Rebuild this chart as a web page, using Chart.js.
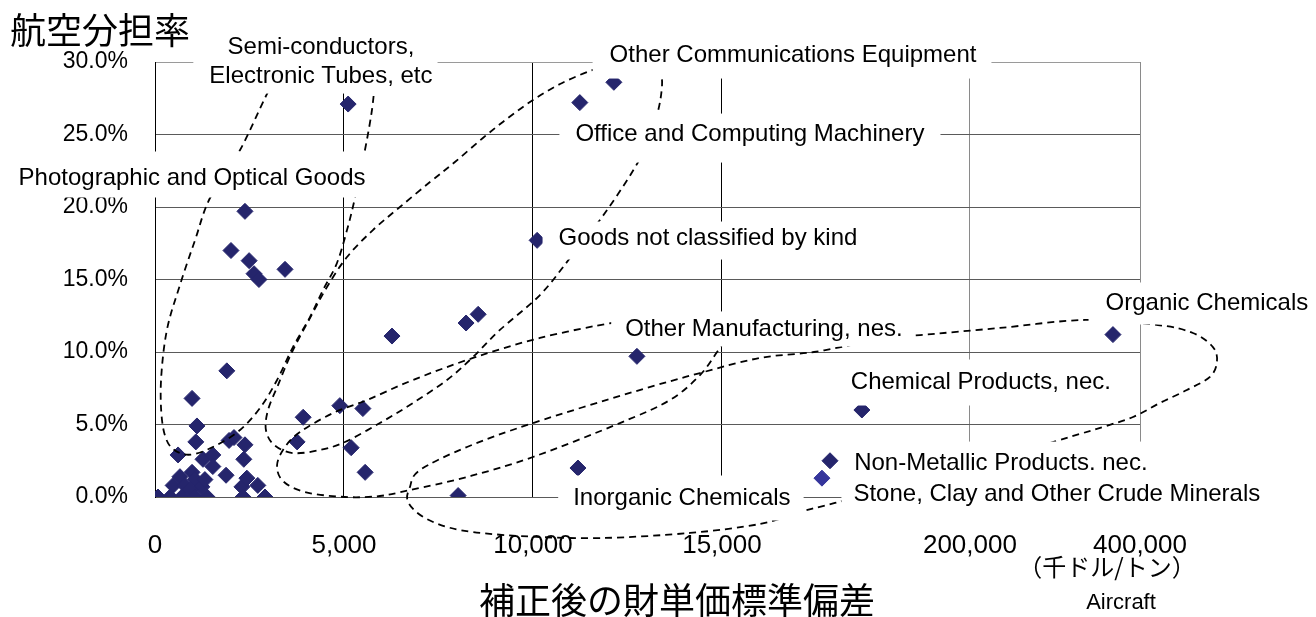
<!DOCTYPE html>
<html><head><meta charset="utf-8">
<script src="https://cdn.jsdelivr.net/npm/chart.js@4.4.1/dist/chart.umd.min.js"></script>
<style>html,body{margin:0;padding:0;background:#fff;}canvas{display:block;}</style>
</head><body>
<canvas id="c" width="1316" height="617"></canvas>
<script>
// ---------------- data ----------------
// x: adjusted standard deviation of unit value (thousand $/ton), y: air share (%)
const stdDev = [5110, 11240, 12140, 2380, 2010, 2490, 2620, 2750, 3440, 10110, 6270, 8230, 8550, 12750,
  1900, 980, 1110, 1080, 610, 1960, 2090, 2380, 2350, 1880, 1270, 1530, 1530, 980, 660, 480, 790, 1060,
  1240, 1320, 930, 80, 400, 710, 1060, 1380, 2300, 2430, 2720, 2330, 2910, 3920, 4890, 5500, 3760, 5190,
  5560, 8020, 11190, 119400, 368200, 95600];
const airShare = [27.1, 27.2, 28.6, 19.7, 17.0, 16.3, 15.4, 15.0, 15.7, 17.7, 11.1, 12.0, 12.6, 9.7,
  8.7, 6.8, 4.9, 3.8, 2.9, 3.9, 4.1, 3.6, 2.6, 1.5, 2.6, 2.9, 2.1, 1.7, 1.4, 0.8, 0.8, 1.2,
  0.7, 1.2, 0.5, 0, 0, 0, 0, 0, 0.7, 1.3, 0.8, 0, 0, 5.5, 6.3, 6.1, 3.8, 3.4,
  1.7, 0.1, 2.0, 6.0, 11.2, 2.5];
const stoneStdDev = [89600];
const stoneShare = [1.3];

const xTickValues = [0, 5000, 10000, 15000, 200000, 400000];
const xTickLabels = ['0', '5,000', '10,000', '15,000', '200,000', '400,000'];
const yTickStep = 5;

// broken x axis: real value -> axis position
const xBreaks = [0, 15000, 200000, 400000];
const axisBreaks = [0, 3, 4.312, 5.212];
function axisPos(v) {
  for (let i = 1; i < xBreaks.length; i++) {
    if (v <= xBreaks[i] || i === xBreaks.length - 1) {
      const t = (v - xBreaks[i - 1]) / (xBreaks[i] - xBreaks[i - 1]);
      return axisBreaks[i - 1] + t * (axisBreaks[i] - axisBreaks[i - 1]);
    }
  }
}

// ---------------- annotations (axis units: [axis position, %]) ----------------
const curves = [
  { closed: false, pts: [[0.661,29.45],[0.582,27.52],[0.450,23.93],[0.291,20.62],[0.212,17.72],[0.132,14.62],[0.063,11.52],
    [0.032,8.07],[0.037,5.31],[0.069,3.72],[0.132,3.03],[0.212,2.97],[0.328,3.59],[0.450,4.62],[0.556,6.14],[0.646,8.07],
    [0.730,10.34],[0.820,12.41],[0.889,14.28],[0.963,16.14],[1.016,18.41],[1.058,20.62],[1.111,23.93],[1.148,26.69],[1.164,28.76],[1.169,29.59]] },
  { closed: false, pts: [[2.407,29.72],[2.302,29.38],[2.143,28.48],[2.0,27.38],[1.868,26.14],[1.735,24.76],[1.587,23.10],[1.455,21.72],
    [1.296,20.0],[1.153,18.41],[1.016,16.55],[0.910,14.48],[0.820,12.34],[0.725,10.0],[0.651,7.72],[0.598,6.0],[0.587,4.62],
    [0.630,3.59],[0.730,3.03],[0.873,3.24],[1.005,3.79],[1.190,5.10],[1.365,6.48],[1.545,8.07],[1.683,9.66],[1.825,11.52],
    [2.037,13.93],[2.196,16.48],[2.392,19.79],[2.577,23.59],[2.656,26.34],[2.683,28.41],[2.672,29.59]] },
  { closed: false, pts: [[2.566,12.07],[2.418,12.0],[2.037,10.97],[1.683,9.59],[1.365,8.07],[1.122,6.69],[0.942,5.79],[0.767,4.48],
    [0.688,3.45],[0.646,2.21],[0.677,1.10],[0.794,0.34],[1.005,0.0],[1.190,0.07],[1.349,0.48],[1.651,1.38],[2.0,2.76],
    [2.460,5.10],[2.725,6.69],[2.884,8.41],[2.974,10.0],[3.026,10.97],[3.069,11.52]] },
  { closed: true, pts: [[3.836,10.97],[4.048,11.17],[4.471,11.66],[4.921,12.21],[5.307,11.86],[5.492,11.31],[5.598,10.34],[5.619,9.31],
    [5.582,8.28],[5.460,7.38],[5.317,6.48],[5.175,5.52],[5.016,4.83],[4.841,4.14],[4.471,2.69],[3.942,0.83],[3.598,-0.41],
    [3.413,-1.03],[3.201,-1.86],[2.831,-2.48],[2.354,-2.83],[1.931,-2.69],[1.614,-2.28],[1.429,-1.45],[1.339,-0.34],
    [1.349,0.69],[1.402,1.86],[1.651,3.45],[2.0,5.10],[2.529,7.24],[2.884,8.55],[3.201,9.59],[3.487,10.0],[3.730,10.62]] }
];

// label: lines, centre [axis position, %], white box padding [left,right,top,bottom]
const labels = [
  { lines: ['Semi-conductors,', 'Electronic Tubes, etc'], at: [0.878, 30.03], pad: [16, 5, 4, 3] },
  { lines: ['Other Communications Equipment'], at: [3.376, 30.48], pad: [17, 15, 3, 9] },
  { lines: ['Office and Computing Machinery'], at: [3.148, 25.03], pad: [16, 16, 6, 14] },
  { lines: ['Photographic and Optical Goods'], at: [0.196, 22.0], pad: [7, 5, 12, 5] },
  { lines: ['Goods not classified by kind'], at: [2.926, 17.86], pad: [16, 12, 2, 7] },
  { lines: ['Other Manufacturing, nes.'], at: [3.222, 11.59], pad: [14, 11, 3, 3] },
  { lines: ['Organic Chemicals'], at: [5.566, 13.38], pad: [17, 6, 6, 7] },
  { lines: ['Chemical Products, nec.'], at: [4.370, 7.93], pad: [14, 14, 8, 9] },
  { lines: ['Non-Metallic Products. nec.'], at: [4.476, 2.34], pad: [13, 10, 7, 1] },
  { lines: ['Stone, Clay and Other Crude Minerals'], at: [4.772, 0.21], pad: [12, 7, 2, 4] },
  { lines: ['Inorganic Chemicals'], at: [2.788, -0.07], pad: [15, 13, 8, 8] }
];

const LATIN = "'Liberation Sans', Arial, sans-serif";
const CJK = "'Noto Sans CJK JP', 'Noto Sans CJK SC', sans-serif";
const navy = '#25256c';

function spline(ctx, p, closed) {
  const n = p.length;
  const get = i => closed ? p[(i + n) % n] : p[Math.max(0, Math.min(n - 1, i))];
  ctx.beginPath();
  ctx.moveTo(p[0][0], p[0][1]);
  const segs = closed ? n : n - 1;
  for (let i = 0; i < segs; i++) {
    const p0 = get(i - 1), p1 = get(i), p2 = get(i + 1), p3 = get(i + 2);
    const c1 = [p1[0] + (p2[0] - p0[0]) / 6, p1[1] + (p2[1] - p0[1]) / 6];
    const c2 = [p2[0] - (p3[0] - p1[0]) / 6, p2[1] - (p3[1] - p1[1]) / 6];
    ctx.bezierCurveTo(c1[0], c1[1], c2[0], c2[1], p2[0], p2[1]);
  }
  if (closed) ctx.closePath();
  ctx.stroke();
}

const annot = {
  id: 'annot',
  afterDatasetsDraw(chart) {
    const { ctx, scales: { x, y } } = chart;
    ctx.save();
    ctx.setLineDash([7, 5]);
    ctx.lineWidth = 1.8;
    ctx.strokeStyle = '#000';
    for (const c of curves) {
      spline(ctx, c.pts.map(([u, v]) => [x.getPixelForValue(u), y.getPixelForValue(v)]), c.closed);
    }
    ctx.setLineDash([]);
    ctx.font = '24px ' + LATIN;
    ctx.textAlign = 'center';
    ctx.textBaseline = 'middle';
    const lh = 29;
    for (const l of labels) {
      const cx = x.getPixelForValue(l.at[0]);
      const cy = y.getPixelForValue(l.at[1]);
      const w = Math.max(...l.lines.map(t => ctx.measureText(t).width));
      const h = l.lines.length * lh;
      const [pl, pr, pt, pb] = l.pad;
      ctx.fillStyle = '#fff';
      ctx.fillRect(cx - w / 2 - pl, cy - h / 2 - pt, w + pl + pr, h + pt + pb);
      ctx.fillStyle = '#000';
      l.lines.forEach((t, i) => ctx.fillText(t, cx, cy - h / 2 + lh / 2 + i * lh));
    }
    ctx.restore();
  },
  afterDraw(chart) {
    const ctx = chart.ctx;
    ctx.save();
    ctx.fillStyle = '#000';
    ctx.textBaseline = 'middle';
    ctx.textAlign = 'left';
    ctx.font = '36px ' + CJK;
    ctx.fillText('航空分担率', 10, 30);
    ctx.textAlign = 'center';
    ctx.fillText('補正後の財単価標準偏差', 677, 600);
    ctx.font = '24px ' + CJK;
    ctx.fillText('（千ドル/トン）', 1107, 567);
    ctx.font = '22px ' + LATIN;
    ctx.fillText('Aircraft', 1121, 603);
    ctx.restore();
  }
};

new Chart(document.getElementById('c'), {
  type: 'scatter',
  data: {
    datasets: [
      { data: stdDev.map((v, i) => ({ x: axisPos(v), y: airShare[i] })), pointStyle: 'rectRot', pointRadius: 8,
        backgroundColor: navy, borderColor: navy, borderWidth: 1 },
      { data: stoneStdDev.map((v, i) => ({ x: axisPos(v), y: stoneShare[i] })), pointStyle: 'rectRot', pointRadius: 8,
        backgroundColor: '#35359c', borderColor: '#35359c', borderWidth: 1 }
    ]
  },
  options: {
    responsive: false, animation: false, devicePixelRatio: 1,
    layout: { padding: { top: 62, right: 176, left: 0, bottom: 0 } },
    plugins: { legend: { display: false }, tooltip: { enabled: false } },
    scales: {
      x: {
        type: 'linear', min: 0, max: axisPos(400000),
        afterBuildTicks: s => { s.ticks = xTickValues.map(v => ({ value: axisPos(v) })); },
        afterFit: s => { s.height = 120; },
        grid: { drawTicks: false, lineWidth: 1, color: c => (c.index >= 4 ? '#8a8a8a' : '#000') },
        border: { display: false },
        ticks: { autoSkip: false, maxRotation: 0, padding: 33, color: '#000',
          font: { family: LATIN, size: 26 }, callback: (v, i) => xTickLabels[i] }
      },
      y: {
        min: 0, max: 30,
        afterFit: s => { s.width = 155; },
        grid: { drawTicks: false, lineWidth: 1, color: c => (c.tick && c.tick.value === 30 ? '#9a9a9a' : '#5a5a5a') },
        border: { display: true, color: '#000', width: 1 },
        ticks: { stepSize: yTickStep, padding: 27, color: '#000', font: { family: LATIN, size: 23 },
          callback: v => v.toFixed(1) + '%' }
      }
    }
  },
  plugins: [annot]
});
</script>
</body></html>
